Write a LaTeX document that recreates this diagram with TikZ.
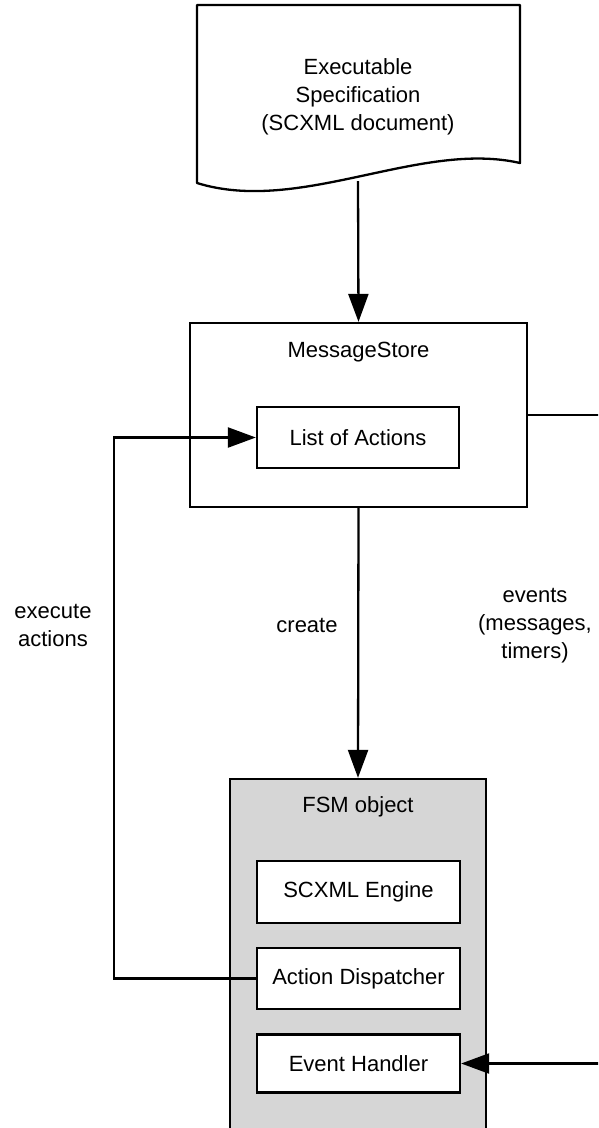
\documentclass[tikz,border=0pt]{standalone}
\usepackage{fontspec}
\setmainfont{Liberation Sans}
\usetikzlibrary{arrows.meta}
\definecolor{fsmgray}{RGB}{214,214,214}
\tikzset{
  box/.style={draw, line width=2.3pt, fill=white, inner sep=0pt},
  lbl/.style={align=center, inner sep=0pt},
  conn/.style={line width=2.3pt},
  flow/.style={conn, -{Triangle[length=28pt,width=20pt]}},
}
\begin{document}
\begin{tikzpicture}[x=1pt, y=-1pt, font=\fontsize{22}{28}\selectfont]
  \useasboundingbox (0,0) rectangle (598,1128);
  \clip (0,0) rectangle (598,1128);

  % specification document (wavy bottom edge)
  \draw[line width=2.3pt, line join=round, fill=white]
    (197,5) -- (520,5) -- (520,163)
    .. controls (420,140) and (300,215) .. (197,183) -- cycle;
  \node[lbl] (spec) at (358,97) {Executable\\Specification\\(SCXML document)};
  \coordinate (specbottom) at (358,181);

  % message store with its list of actions
  \node[box, minimum width=337pt, minimum height=184pt] (store) at (358.5,415) {};
  \node[lbl] (storelabel) at (358.5,352) {MessageStore};
  \node[box, minimum width=202pt, minimum height=61pt] (actions) at (358,437.5) {List of Actions};

  % FSM object and its parts
  \node[box, fill=fsmgray, minimum width=256pt, minimum height=390pt] (fsm) at (358,974) {};
  \node[lbl] (fsmlabel) at (358,807) {FSM object};
  \node[box, minimum width=203pt, minimum height=62pt] (engine) at (358.5,892) {SCXML Engine};
  \node[box, minimum width=203pt, minimum height=61pt] (dispatcher) at (358.5,978.5) {Action Dispatcher};
  \node[box, minimum width=203pt, minimum height=58pt] (handler) at (358.5,1063.5) {Event Handler};

  % connectors
  \draw[flow] (specbottom) -- (store.north);
  \draw[flow] (store.south) -- (fsm.north);

  \coordinate (loopcorner) at (114,978.5);
  \draw[flow, line join=miter] (dispatcher.west) -- (loopcorner) |- (actions.west);

  \coordinate (eventsout) at (606,415);
  \draw[conn] (store.east) -- (eventsout);
  \coordinate (eventsin) at (606,1063.5);
  \draw[flow] (eventsin) -- (handler.east);

  % labels
  \node[lbl] (execlabel) at (53,625) {execute\\actions};
  \node[lbl] (createlabel) at (307,625) {create};
  \node[lbl] (eventslabel) at (535,626) {events\\(messages,\\timers)};
\end{tikzpicture}
\end{document}
